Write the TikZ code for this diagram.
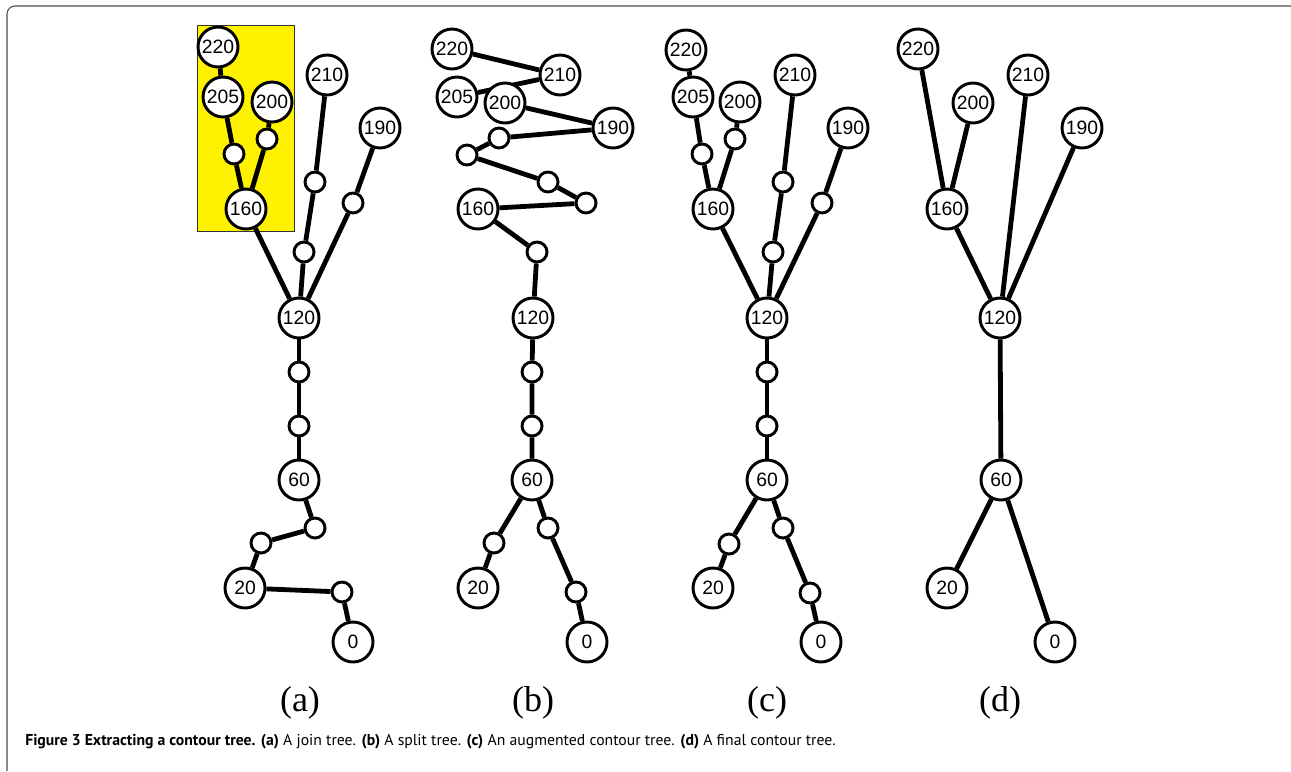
\documentclass[tikz,border=0pt]{standalone}
\usepackage{fontspec}
\setmainfont{Liberation Serif}
\newfontfamily\valfont{Liberation Sans}
\newfontfamily\capfont{PT Sans}
\usetikzlibrary{backgrounds}

\begin{document}
\begin{tikzpicture}[
  x=0.75pt,
  y=-0.75pt,
  val/.style={circle, draw, line width=2.2pt, fill=white,
    minimum size=30pt, inner sep=0pt,
    font=\valfont\fontsize{14.5}{14.5}\selectfont},
  mid/.style={circle, draw, line width=2.2pt, fill=white,
    minimum size=15pt, inner sep=0pt},
  arc/.style={line width=3.6pt},
  sub/.style={font=\fontsize{27}{27}\selectfont}
]
  \useasboundingbox (0,0) rectangle (1291,771);

  % Frame
  \draw[gray!60!black, line width=0.8pt, rounded corners=6pt]
    (7,771) -- (7,6) -- (1291,6);

  % (a) join tree
  \node[val] (a220) at (218,47)  {220};
  \node[val] (a205) at (223,97)  {205};
  \node[val] (a200) at (272,102) {200};
  \node[val] (a210) at (327,75)  {210};
  \node[val] (a190) at (380,128) {190};
  \node[val] (a160) at (246,209) {160};
  \node[val] (a120) at (299,318) {120};
  \node[val] (a60)  at (299,480) {60};
  \node[val] (a20)  at (245,588) {20};
  \node[val] (a0)   at (353,642) {0};
  \node[mid] (aA) at (234,154) {};
  \node[mid] (aB) at (267,139) {};
  \node[mid] (aC) at (315,182) {};
  \node[mid] (aD) at (353,203) {};
  \node[mid] (aE) at (304,252) {};
  \node[mid] (aF) at (299,372) {};
  \node[mid] (aG) at (299,426) {};
  \node[mid] (aH) at (315,528) {};
  \node[mid] (aI) at (261,543) {};
  \node[mid] (aJ) at (342,592) {};

  % (b) split tree
  \node[val] (b220) at (452,49)  {220};
  \node[val] (b210) at (560,75)  {210};
  \node[val] (b205) at (457,97)  {205};
  \node[val] (b200) at (505,103) {200};
  \node[val] (b190) at (613,128) {190};
  \node[val] (b160) at (478,209) {160};
  \node[val] (b120) at (533,318) {120};
  \node[val] (b60)  at (532,480) {60};
  \node[val] (b20)  at (478,588) {20};
  \node[val] (b0)   at (587,642) {0};
  \node[mid] (bA) at (499,138) {};
  \node[mid] (bB) at (467,155) {};
  \node[mid] (bC) at (548,182) {};
  \node[mid] (bD) at (586,203) {};
  \node[mid] (bE) at (537,252) {};
  \node[mid] (bF) at (532,372) {};
  \node[mid] (bG) at (532,426) {};
  \node[mid] (bH) at (494,543) {};
  \node[mid] (bI) at (548,528) {};
  \node[mid] (bJ) at (576,592) {};

  % (c) augmented contour tree
  \node[val] (c220) at (686,50)  {220};
  \node[val] (c205) at (693,97)  {205};
  \node[val] (c200) at (740,102) {200};
  \node[val] (c210) at (795,75)  {210};
  \node[val] (c190) at (848,128) {190};
  \node[val] (c160) at (713,209) {160};
  \node[val] (c120) at (767,318) {120};
  \node[val] (c60)  at (767,480) {60};
  \node[val] (c20)  at (713,588) {20};
  \node[val] (c0)   at (821,642) {0};
  \node[mid] (cA) at (702,154) {};
  \node[mid] (cB) at (735,139) {};
  \node[mid] (cC) at (783,182) {};
  \node[mid] (cD) at (822,203) {};
  \node[mid] (cE) at (773,252) {};
  \node[mid] (cF) at (767,372) {};
  \node[mid] (cG) at (767,426) {};
  \node[mid] (cH) at (729,544) {};
  \node[mid] (cI) at (783,528) {};
  \node[mid] (cJ) at (810,593) {};

  % (d) final contour tree
  \node[val] (d220) at (918,49)   {220};
  \node[val] (d200) at (973,103)  {200};
  \node[val] (d210) at (1028,75)  {210};
  \node[val] (d190) at (1082,128) {190};
  \node[val] (d160) at (947,209)  {160};
  \node[val] (d120) at (1000,318) {120};
  \node[val] (d60)  at (1001,480) {60};
  \node[val] (d20)  at (947,588)  {20};
  \node[val] (d0)   at (1055,642) {0};

  % Edges under the nodes
  \begin{scope}[on background layer]
    \filldraw[fill=yellow, draw=black!80, line width=0.7pt]
      (197,25) rectangle (294,231);

    \draw[arc] (a220) -- (a205);
    \draw[arc] (a205) -- (aA) -- (a160);
    \draw[arc] (a200) -- (aB) -- (a160);
    \draw[arc] (a160) -- (a120);
    \draw[arc] (a210) -- (aC) -- (aE) -- (a120);
    \draw[arc] (a190) -- (aD) -- (a120);
    \draw[arc] (a120) -- (aF) -- (aG) -- (a60);
    \draw[arc] (a60) -- (aH) -- (aI) -- (a20);
    \draw[arc] (a20) -- (aJ) -- (a0);

    \draw[arc] (b220) -- (b210) -- (b205);
    \draw[arc] (b200) -- (b190) -- (bA) -- (bB) -- (bC) -- (bD) -- (b160);
    \draw[arc] (b160) -- (bE) -- (b120);
    \draw[arc] (b120) -- (bF) -- (bG) -- (b60);
    \draw[arc] (b60) -- (bH) -- (b20);
    \draw[arc] (b60) -- (bI) -- (bJ) -- (b0);

    \draw[arc] (c220) -- (c205);
    \draw[arc] (c205) -- (cA) -- (c160);
    \draw[arc] (c200) -- (cB) -- (c160);
    \draw[arc] (c160) -- (c120);
    \draw[arc] (c210) -- (cC) -- (cE) -- (c120);
    \draw[arc] (c190) -- (cD) -- (c120);
    \draw[arc] (c120) -- (cF) -- (cG) -- (c60);
    \draw[arc] (c60) -- (cH) -- (c20);
    \draw[arc] (c60) -- (cI) -- (cJ) -- (c0);

    \draw[arc] (d220) -- (d160);
    \draw[arc] (d200) -- (d160);
    \draw[arc] (d160) -- (d120);
    \draw[arc] (d210) -- (d120);
    \draw[arc] (d190) -- (d120);
    \draw[arc] (d120) -- (d60);
    \draw[arc] (d60) -- (d20);
    \draw[arc] (d60) -- (d0);
  \end{scope}

  % Sub-figure labels
  \node[sub] (la) at (300,703)  {(a)};
  \node[sub] (lb) at (533,703)  {(b)};
  \node[sub] (lc) at (767,703)  {(c)};
  \node[sub] (ld) at (1000,703) {(d)};

  % Caption
  \node[anchor=base west, inner sep=0pt,
    font=\capfont\fontsize{11.8}{13}\selectfont] (cap) at (25,745)
    {\textbf{Figure 3 Extracting a contour tree. (a)} A join tree.
     \textbf{(b)} A split tree. \textbf{(c)} An augmented contour tree.
     \textbf{(d)} A final contour tree.};
\end{tikzpicture}
\end{document}
